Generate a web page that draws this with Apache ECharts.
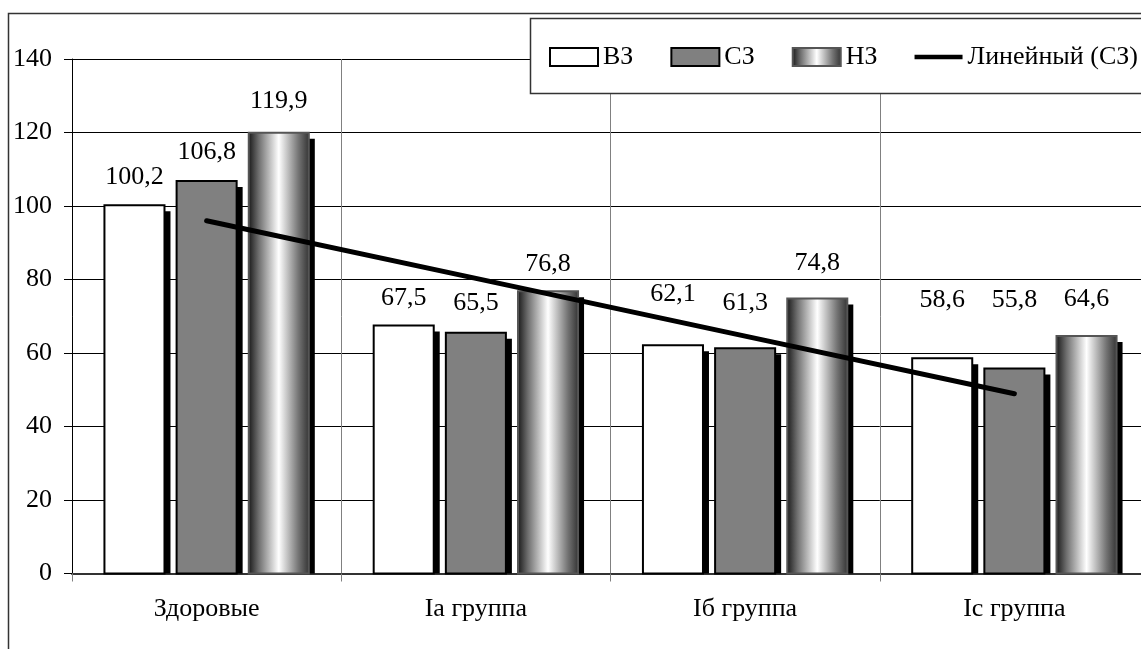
<!DOCTYPE html>
<html>
<head>
<meta charset="utf-8">
<script src="https://cdn.jsdelivr.net/npm/echarts@6/dist/echarts.min.js"></script>
<style>
  html, body { margin: 0; padding: 0; background: #fff; overflow: hidden; }
  #chart { width: 1150px; height: 649px; }
</style>
</head>
<body>
<div id="chart"></div>
<script>
// Groups along the x axis
const categories = ['Здоровые', 'Iа группа', 'Iб группа', 'Ic группа'];

// Values per zone
const seriesNames = ['ВЗ', 'СЗ', 'НЗ'];
const valuesVZ = [100.2, 67.5, 62.1, 58.6];
const valuesSZ = [106.8, 65.5, 61.3, 55.8];
const valuesNZ = [119.9, 76.8, 74.8, 64.6];

// Linear trend of СЗ
const trendName = 'Линейный (СЗ)';
const trendSZ = [96.0, 80.3, 64.6, 48.9];

// Y axis ticks
const yTicks = [0, 20, 40, 60, 80, 100, 120, 140];

// ---- layout / styling ----
const FONT = '"Liberation Serif", "Times New Roman", serif';
const FONT_SIZE = 26;
// pixels between bar top and the centre of its value label
const labelLift = [
  [28, 27, 51, 58],
  [29, 30, 45, 68],
  [32, 27, 35, 37]
];

const gradNZ = {
  type: 'linear', x: 0, y: 0, x2: 1, y2: 0,
  colorStops: [
    { offset: 0, color: '#141414' },
    { offset: 0.18, color: '#707070' },
    { offset: 0.5, color: '#ffffff' },
    { offset: 0.82, color: '#737373' },
    { offset: 1, color: '#303030' }
  ]
};
const barStyles = [
  { color: '#ffffff', borderColor: '#000000', borderWidth: 2 },
  { color: '#808080', borderColor: '#000000', borderWidth: 2 },
  { color: gradNZ, borderColor: '#555555', borderWidth: 2 }
];
const seriesValues = [valuesVZ, valuesSZ, valuesNZ];

function fmt(v) { return v.toFixed(1).replace('.', ','); }

function makeRender(idx) {
  return function (params, api) {
    const cat = api.value(0);
    const val = api.value(1);
    const band = api.size([1, 0])[0];
    const base = api.coord([cat, 0]);
    const top = api.coord([cat, val]);
    const bw = band * 0.223;
    const step = band * 0.268;
    const cx = base[0] + (idx - 1) * step;
    const x = cx - bw / 2;
    const h = base[1] - top[1];
    const st = barStyles[idx];
    const lift = labelLift[idx][params.dataIndex];
    return {
      type: 'group',
      children: [
        {
          type: 'rect',
          shape: { x: x + bw, y: top[1] + 6, width: 6, height: h - 6 },
          style: { fill: '#000000' }
        },
        {
          type: 'rect',
          shape: { x: x, y: top[1], width: bw, height: h },
          style: { fill: st.color, stroke: st.borderColor, lineWidth: st.borderWidth }
        },
        {
          type: 'text',
          style: {
            text: fmt(val), x: cx, y: top[1] - lift,
            align: 'center', verticalAlign: 'middle',
            fill: '#000', font: FONT_SIZE + 'px ' + FONT
          }
        }
      ]
    };
  };
}

const barSeries = seriesNames.map(function (name, i) {
  return {
    name: name,
    type: 'custom',
    renderItem: makeRender(i),
    itemStyle: barStyles[i],
    z: 2,
    data: seriesValues[i].map(function (v, c) { return [c, v]; })
  };
});

const chart = echarts.init(document.getElementById('chart'), null, { renderer: 'canvas' });

chart.setOption({
  animation: false,
  backgroundColor: '#ffffff',
  textStyle: { fontFamily: FONT },
  grid: { left: 72, right: 1, top: 59, bottom: 75.5 },
  graphic: [
    {
      type: 'rect', z: -1, silent: true,
      shape: { x: 8.5, y: 13.5, width: 1300, height: 800 },
      style: { fill: 'none', stroke: '#333333', lineWidth: 1.5 }
    },
    {
      type: 'rect', z: 3, silent: true,
      shape: { x: 530.5, y: 18.5, width: 700, height: 75 },
      style: { fill: '#ffffff', stroke: '#333333', lineWidth: 1.5 }
    }
  ],
  legend: {
    z: 5,
    left: 549,
    top: 44,
    padding: 0,
    itemWidth: 48,
    itemHeight: 18,
    itemGap: 37,
    textStyle: { fontFamily: FONT, fontSize: FONT_SIZE, color: '#000' },
    data: [
      { name: 'ВЗ', icon: 'rect' },
      { name: 'СЗ', icon: 'rect' },
      { name: 'НЗ', icon: 'rect' },
      {
        name: trendName,
        icon: 'path://M0,0 L52,0 L52,5 L0,5 Z',
        itemStyle: { color: '#000000', borderWidth: 0 }
      }
    ]
  },
  xAxis: {
    type: 'category',
    data: categories,
    boundaryGap: true,
    axisLine: { lineStyle: { color: '#333333', width: 2 } },
    axisTick: { show: true, length: 8, lineStyle: { color: '#808080' } },
    axisLabel: { fontFamily: FONT, fontSize: FONT_SIZE, color: '#000', margin: 23 },
    splitLine: { show: true, lineStyle: { color: '#808080', width: 1 } }
  },
  yAxis: {
    type: 'value',
    min: yTicks[0],
    max: yTicks[yTicks.length - 1],
    interval: yTicks[1] - yTicks[0],
    axisLine: { show: true, lineStyle: { color: '#000000', width: 1 } },
    axisTick: { show: true, length: 8, lineStyle: { color: '#000000' } },
    axisLabel: { fontFamily: FONT, fontSize: FONT_SIZE, color: '#000', margin: 20 },
    splitLine: { show: true, lineStyle: { color: '#000000', width: 1 } }
  },
  series: barSeries.concat([
    {
      name: trendName,
      type: 'line',
      data: trendSZ,
      symbol: 'none',
      showSymbol: false,
      z: 4,
      lineStyle: { color: '#000000', width: 5, cap: 'round' },
      itemStyle: { color: '#000000' }
    }
  ])
});
</script>
</body>
</html>
